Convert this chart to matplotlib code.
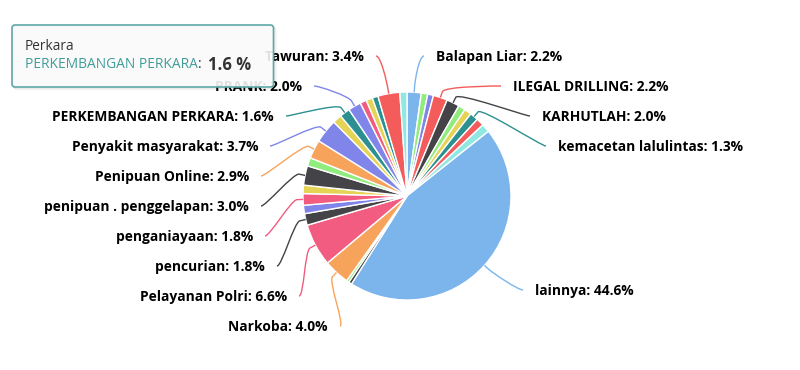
import matplotlib
matplotlib.use("Agg")
import matplotlib.pyplot as plt
from matplotlib.patches import FancyBboxPatch, PathPatch
from matplotlib.path import Path
import numpy as np

# ---------------- data ----------------
categories = ["Balapan Liar", "", "", "ILEGAL DRILLING", "KARHUTLAH", "", "",
              "kemacetan lalulintas", "", "",
              "lainnya", "", "", "Narkoba", "Pelayanan Polri", "pencurian", "",
              "penganiayaan", "", "penipuan . penggelapan", "", "Penipuan Online",
              "Penyakit masyarakat", "", "PERKEMBANGAN PERKARA",
              "PRANK", "", "", "", "Tawuran", ""]
values = [2.2, 1.0, 0.9, 2.2, 2.0, 1.1, 1.1, 1.3, 1.2, 1.3,
          44.6, 0.5, 0.4, 4.0, 6.6, 1.8, 1.3, 1.8, 1.3,
          3.0, 1.3, 2.9, 3.7, 1.4, 1.6,
          2.0, 1.0, 1.0, 0.9, 3.4, 1.1]

tooltip_title = "Perkara"
tooltip_name = "PERKEMBANGAN PERKARA"
tooltip_value = "1.6 %"

# ---------------- styles ----------------
BLUE, DARK, GREEN, ORANGE, PURPLE = "#7cb5ec", "#434348", "#90ed7d", "#f7a35c", "#8085e9"
PINK, YELLOW, TEAL, RED, LTEAL = "#f15c80", "#e4d354", "#2b908f", "#f45b5b", "#91e8e1"
slice_colors = [BLUE, GREEN, PURPLE, RED, DARK, GREEN, YELLOW, TEAL, RED, LTEAL,
                BLUE, DARK, GREEN, ORANGE, PINK, DARK, PURPLE, PINK, YELLOW,
                DARK, GREEN, ORANGE, PURPLE, YELLOW, TEAL,
                PURPLE, PINK, YELLOW, TEAL, RED, LTEAL]

W, H = 800, 370
CX, CY, R = 407, 196, 104          # pixel coords (y down)

# label layout: text edge x, centre y (pixels, y down), side
label_layout = {
    "Tawuran": (364, 57, "L"),
    "PRANK": (302, 87, "L"),
    "PERKEMBANGAN PERKARA": (274, 117, "L"),
    "Penyakit masyarakat": (258, 147, "L"),
    "Penipuan Online": (249, 177, "L"),
    "penipuan . penggelapan": (249, 207, "L"),
    "penganiayaan": (253, 237, "L"),
    "pencurian": (265, 267, "L"),
    "Pelayanan Polri": (287, 297, "L"),
    "Narkoba": (328, 327, "L"),
    "Balapan Liar": (436, 57, "R"),
    "ILEGAL DRILLING": (513, 87, "R"),
    "KARHUTLAH": (542, 117, "R"),
    "kemacetan lalulintas": (558, 147, "R"),
    "lainnya": (535, 291, "R"),
}

LABEL_FONT = "Open Sans"
LABEL_SIZE = 9.9

fig = plt.figure(figsize=(W / 100, H / 100), dpi=100)
ax = fig.add_axes([0, 0, 1, 1])

ax.pie(values, colors=slice_colors, startangle=90, counterclock=False,
       center=(CX, H - CY), radius=R,
       wedgeprops=dict(edgecolor="white", linewidth=1))
ax.set_xlim(0, W)
ax.set_ylim(0, H)
ax.set_aspect("equal")
ax.axis("off")

total = float(sum(values))
cum = np.cumsum(values)
for i, name in enumerate(categories):
    if not name:
        continue
    v = values[i]
    theta = np.deg2rad(360.0 * (cum[i] - v / 2.0) / total)
    sx, sy = np.sin(theta), np.cos(theta)
    touch = (CX + R * sx, (H - CY) + R * sy)
    brk = (CX + (R + 6) * sx, (H - CY) + (R + 6) * sy)
    ctrl2 = (CX + (R + 12) * sx, (H - CY) + (R + 12) * sy)
    lx, ly, side = label_layout[name]
    ly_d = H - ly
    if side == "R":
        end = (lx - 12, ly_d + 1)
        ctrl1 = (end[0] - 5, end[1])
        ha = "left"
    else:
        end = (lx + 12, ly_d + 1)
        ctrl1 = (end[0] + 5, end[1])
        ha = "right"
    path = Path([end, ctrl1, ctrl2, brk, touch],
                [Path.MOVETO, Path.CURVE4, Path.CURVE4, Path.CURVE4, Path.LINETO])
    ax.add_patch(PathPatch(path, facecolor="none", edgecolor=slice_colors[i],
                           linewidth=1, zorder=3))
    ax.text(lx, ly_d, f"{name}: {v:.1f}%", ha=ha, va="center",
            fontsize=LABEL_SIZE, fontweight="bold", family=LABEL_FONT,
            color="black", zorder=4)

# ---------------- tooltip ----------------
tx0, ty0, tx1, ty1 = 12, 25, 273.5, 87
for k, a in enumerate([0.06, 0.04, 0.02]):
    sh = FancyBboxPatch((tx0 + 1 + k, H - ty1 - 1 - k), tx1 - tx0, ty1 - ty0,
                        boxstyle="round,pad=0,rounding_size=3",
                        facecolor="none", edgecolor=(0, 0, 0, a), linewidth=1.2,
                        zorder=9)
    ax.add_patch(sh)
box = FancyBboxPatch((tx0, H - ty1), tx1 - tx0, ty1 - ty0,
                     boxstyle="round,pad=0,rounding_size=3",
                     facecolor=(0.98, 0.98, 0.98, 0.9), edgecolor="#5fa8a6",
                     linewidth=1.2, zorder=10)
ax.add_patch(box)

ax.text(25, H - 46, tooltip_title, ha="left", va="center", fontsize=9.8,
        family=LABEL_FONT, color="#333333", zorder=11)

fig.canvas.draw()
renderer = fig.canvas.get_renderer()
inv = ax.transData.inverted()
x = 25
parts = [(tooltip_name, "#3f9c99", "normal", 9.9), (": ", "#333333", "normal", 9.9),
         (tooltip_value, "#333333", "bold", 12.0)]
for txt, col, wt, fs in parts:
    t = ax.text(x, H - 65, txt, ha="left", va="center", fontsize=fs,
                family=LABEL_FONT, color=col, fontweight=wt, zorder=11)
    bb = t.get_window_extent(renderer=renderer)
    x = inv.transform((bb.x1, bb.y0))[0]
    if txt == ": ":
        x += 3

fig.savefig("out.png", dpi=100, facecolor="white")
